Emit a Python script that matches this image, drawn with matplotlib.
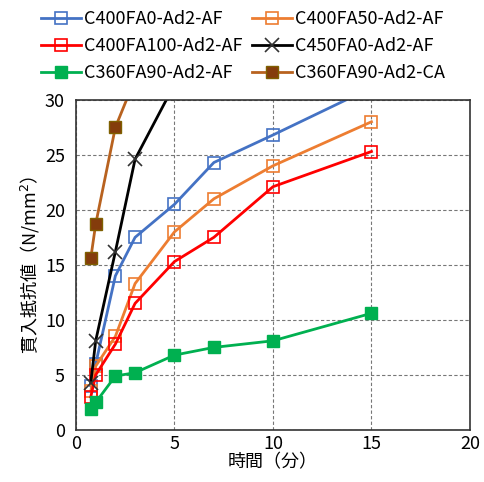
import matplotlib
matplotlib.use("Agg")
import matplotlib.pyplot as plt

plt.rcParams['font.family'] = ['Noto Sans CJK JP', 'DejaVu Sans']

labels = ["C400FA0-Ad2-AF", "C400FA50-Ad2-AF", "C400FA100-Ad2-AF",
          "C450FA0-Ad2-AF", "C360FA90-Ad2-AF", "C360FA90-Ad2-CA"]

x_a = [0.75, 1, 2, 3, 5, 7, 10, 15]
blue_y = [4.0, 6.0, 14.0, 17.5, 20.5, 24.3, 26.8, 31.1]
orange_y = [3.5, 5.8, 8.5, 13.3, 18.0, 21.0, 24.0, 28.0]
red_y = [3.0, 5.0, 7.8, 11.5, 15.3, 17.5, 22.1, 25.3]
green_y = [1.9, 2.5, 4.9, 5.2, 6.8, 7.5, 8.1, 10.6]

x_black = [0.75, 1, 2, 3, 5]
black_y = [4.3, 8.1, 16.2, 24.6, 31.4]

x_brown = [0.75, 1, 2, 3]
brown_y = [15.6, 18.7, 27.5, 31.9]

fig = plt.figure(figsize=(4.84, 4.82), dpi=100)
ax = fig.add_axes([0.157, 0.108, 0.814, 0.685])

ms = 8
h1, = ax.plot(x_a, blue_y, color='#4472C4', lw=2, marker='s', ms=ms, mfc='none', mec='#4472C4', mew=1.2)
h2, = ax.plot(x_a, orange_y, color='#ED7D31', lw=2, marker='s', ms=ms, mfc='none', mec='#ED7D31', mew=1.2)
h3, = ax.plot(x_a, red_y, color='#FF0000', lw=2, marker='s', ms=ms, mfc='none', mec='#FF0000', mew=1.2)
h4, = ax.plot(x_black, black_y, color='black', lw=2, marker='x', ms=10, mec='#333333', mew=1.2)
h5, = ax.plot(x_a, green_y, color='#00B050', lw=2, marker='s', ms=ms, mfc='#00B050', mec='#00B050')
h6, = ax.plot(x_brown, brown_y, color='#B8621F', lw=2, marker='s', ms=ms, mfc='#843C0C', mec='#7F6000')

ax.set_xlim(0, 20)
ax.set_ylim(0, 30)
ax.set_xticks([0, 5, 10, 15, 20])
ax.set_yticks([0, 5, 10, 15, 20, 25, 30])
ax.tick_params(axis='x', length=0, labelsize=13, pad=4)
ax.tick_params(axis='y', length=0, labelsize=13, pad=8)
ax.grid(True, ls=(0, (3, 2)), color='#777777', lw=0.8)
ax.set_axisbelow(True)
for s in ax.spines.values():
    s.set_color('#333333')
    s.set_linewidth(1.2)

ax.set_xlabel("時間（分）", fontsize=13, labelpad=0)
ax.set_ylabel("貫入抵抗値（N/mm$^2$）", fontsize=13, labelpad=2)

# matplotlib fills legend column-wise; order so rows read like the reference
handles = [h1, h3, h5, h2, h4, h6]
leg_labels = [labels[0], labels[2], labels[4], labels[1], labels[3], labels[5]]
fig.legend(handles, leg_labels, loc='upper left', bbox_to_anchor=(0.07, 0.994), ncol=2,
           frameon=False, fontsize=13, handlelength=2.2, handletextpad=0.2,
           columnspacing=0.5, labelspacing=0.5, borderaxespad=0)

fig.savefig("out.png", dpi=100)
